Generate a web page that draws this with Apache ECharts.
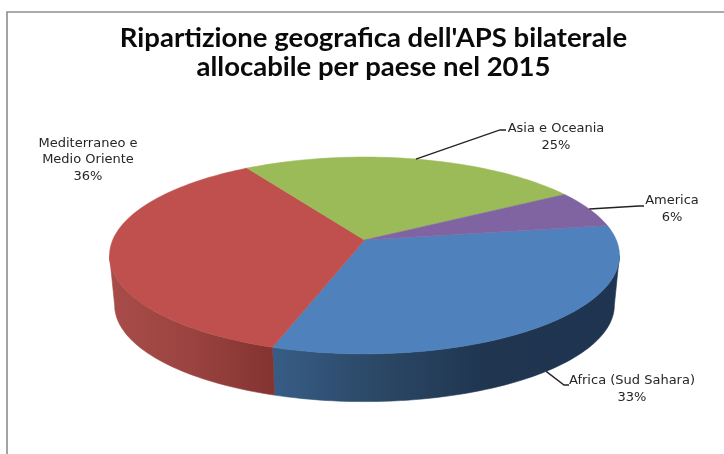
<!DOCTYPE html>
<html><head><meta charset="utf-8">
<script src="https://cdn.jsdelivr.net/npm/echarts@6/dist/echarts.min.js"></script>
<style>html,body{margin:0;padding:0;background:#fff}#c{width:724px;height:454px}</style>
</head><body><div id="c"></div>
<script>
const categories = ['Africa (Sud Sahara)', 'Mediterraneo e\nMedio Oriente', 'Asia e Oceania', 'America'];
const values = [32.5, 36.1, 25.3, 6.1];
const titleText = "Ripartizione geografica dell'APS bilaterale\nallocabile per paese nel 2015";

const topColors = ['#4f81bd', '#c0504d', '#9bbb59', '#8064a2'];
const wallStops = [
  [[0, '#375d86'], [0.3, '#2b4866'], [0.62, '#1f3550'], [1, '#1e3450']],
  [[0, '#a84c49'], [0.5, '#9a4340'], [1, '#833331']],
  [[0, '#5d7136'], [1, '#5d7136']],
  [[0, '#4d3c62'], [1, '#4d3c62']]
];
const labelLayout = [
  {x: 632, y: 389, leader: [[564, 385], [569, 385]], wall: true},
  {x: 88, y: 160},
  {x: 556, y: 137, leader: [[500, 130], [506, 130]]},
  {x: 672, y: 209, leader: [[639, 206], [644, 206]]}
];

// Perspective projection of the pie disc
const CX = 364.5, CY = 240, A = 251.8, B = 96, K = 0.157;
const DEPTH = 50, SHRINK = 0.98, START = 8.9, VIS_FROM = 189, VIS_TO = 351;
function proj(deg, bottom) {
  const t = deg * Math.PI / 180, X = Math.cos(t), Y = Math.sin(t), w = 1 + K * Y;
  const s = bottom ? SHRINK : 1;
  return [CX + s * A * X / w, CY + (bottom ? DEPTH : 0) - s * B * Y / w];
}
const total = values.reduce((a, b) => a + b, 0);
let cursor = START;
const slices = values.map(v => {
  const from = cursor, sweep = v / total * 360;
  cursor -= sweep;
  return {from, to: from - sweep, mid: from - sweep / 2};
});
function arc(a0, a1, bottom) {
  const n = Math.max(2, Math.ceil(Math.abs(a1 - a0) / 1.5)), pts = [];
  for (let i = 0; i <= n; i++) pts.push(proj(a0 + (a1 - a0) * i / n, bottom));
  return pts;
}
function renderWall(params, api) {
  const i = api.value(0), s = slices[i], children = [];
  const a0 = Math.max(s.to + 360, VIS_FROM), a1 = Math.min(s.from + 360, VIS_TO);
  if (a1 > a0) {
    const pts = arc(a0, a1, false).concat(arc(a1, a0, true));
    const xs = pts.map(p => p[0]), x0 = Math.min(...xs), x1 = Math.max(...xs);
    const grad = new echarts.graphic.LinearGradient(x0, 0, x1, 0,
      wallStops[i].map(c => ({offset: c[0], color: c[1]})), true);
    children.push({type: 'polygon', shape: {points: pts},
      style: {fill: grad, stroke: grad, lineWidth: 0.6}});
  }
  return {type: 'group', children};
}
function renderTop(params, api) {
  const i = api.value(0), s = slices[i];
  const pts = [[CX, CY]].concat(arc(s.from, s.to, false));
  return {type: 'polygon', shape: {points: pts},
    style: {fill: topColors[i], stroke: topColors[i], lineWidth: 0.5}};
}
function renderLabel(params, api) {
  const i = api.value(0), s = slices[i], l = labelLayout[i], children = [];
  const pct = Math.round(values[i] / total * 100) + '%';
  if (l.leader) {
    const start = proj(s.mid, !!l.wall);
    children.push({type: 'polyline', shape: {points: [start].concat(l.leader)},
      style: {fill: 'none', stroke: '#222222', lineWidth: 1.3}});
  }
  children.push({type: 'text', x: l.x, y: l.y,
    style: {text: categories[i] + '\n' + pct, fill: '#262626', align: 'center', verticalAlign: 'middle',
      font: '13px "DejaVu Sans"', lineHeight: 16.5}});
  return {type: 'group', children};
}
const idx = categories.map((_, i) => [i]);
const chart = echarts.init(document.getElementById('c'), null, {renderer: 'canvas'});
chart.setOption({
  animation: false,
  backgroundColor: '#ffffff',
  title: {text: titleText, left: 368.5, top: 19, textAlign: 'center',
    textStyle: {fontFamily: 'Lato', fontWeight: 'bold', fontSize: 27.5, lineHeight: 28.5, color: '#0a0a0a'}},
  graphic: [
    {type: 'polyline', shape: {points: [[7, 454], [7, 12], [724, 12]]}, z: 0,
      style: {fill: 'none', stroke: '#8e8e8e', lineWidth: 1.6}}
  ],
  series: [
    {type: 'custom', coordinateSystem: 'none', data: idx, renderItem: renderWall, silent: true, z: 2},
    {type: 'custom', coordinateSystem: 'none', data: idx, renderItem: renderTop, silent: true, z: 3},
    {type: 'custom', coordinateSystem: 'none', data: idx, renderItem: renderLabel, silent: true, z: 4}
  ]
});
</script></body></html>
